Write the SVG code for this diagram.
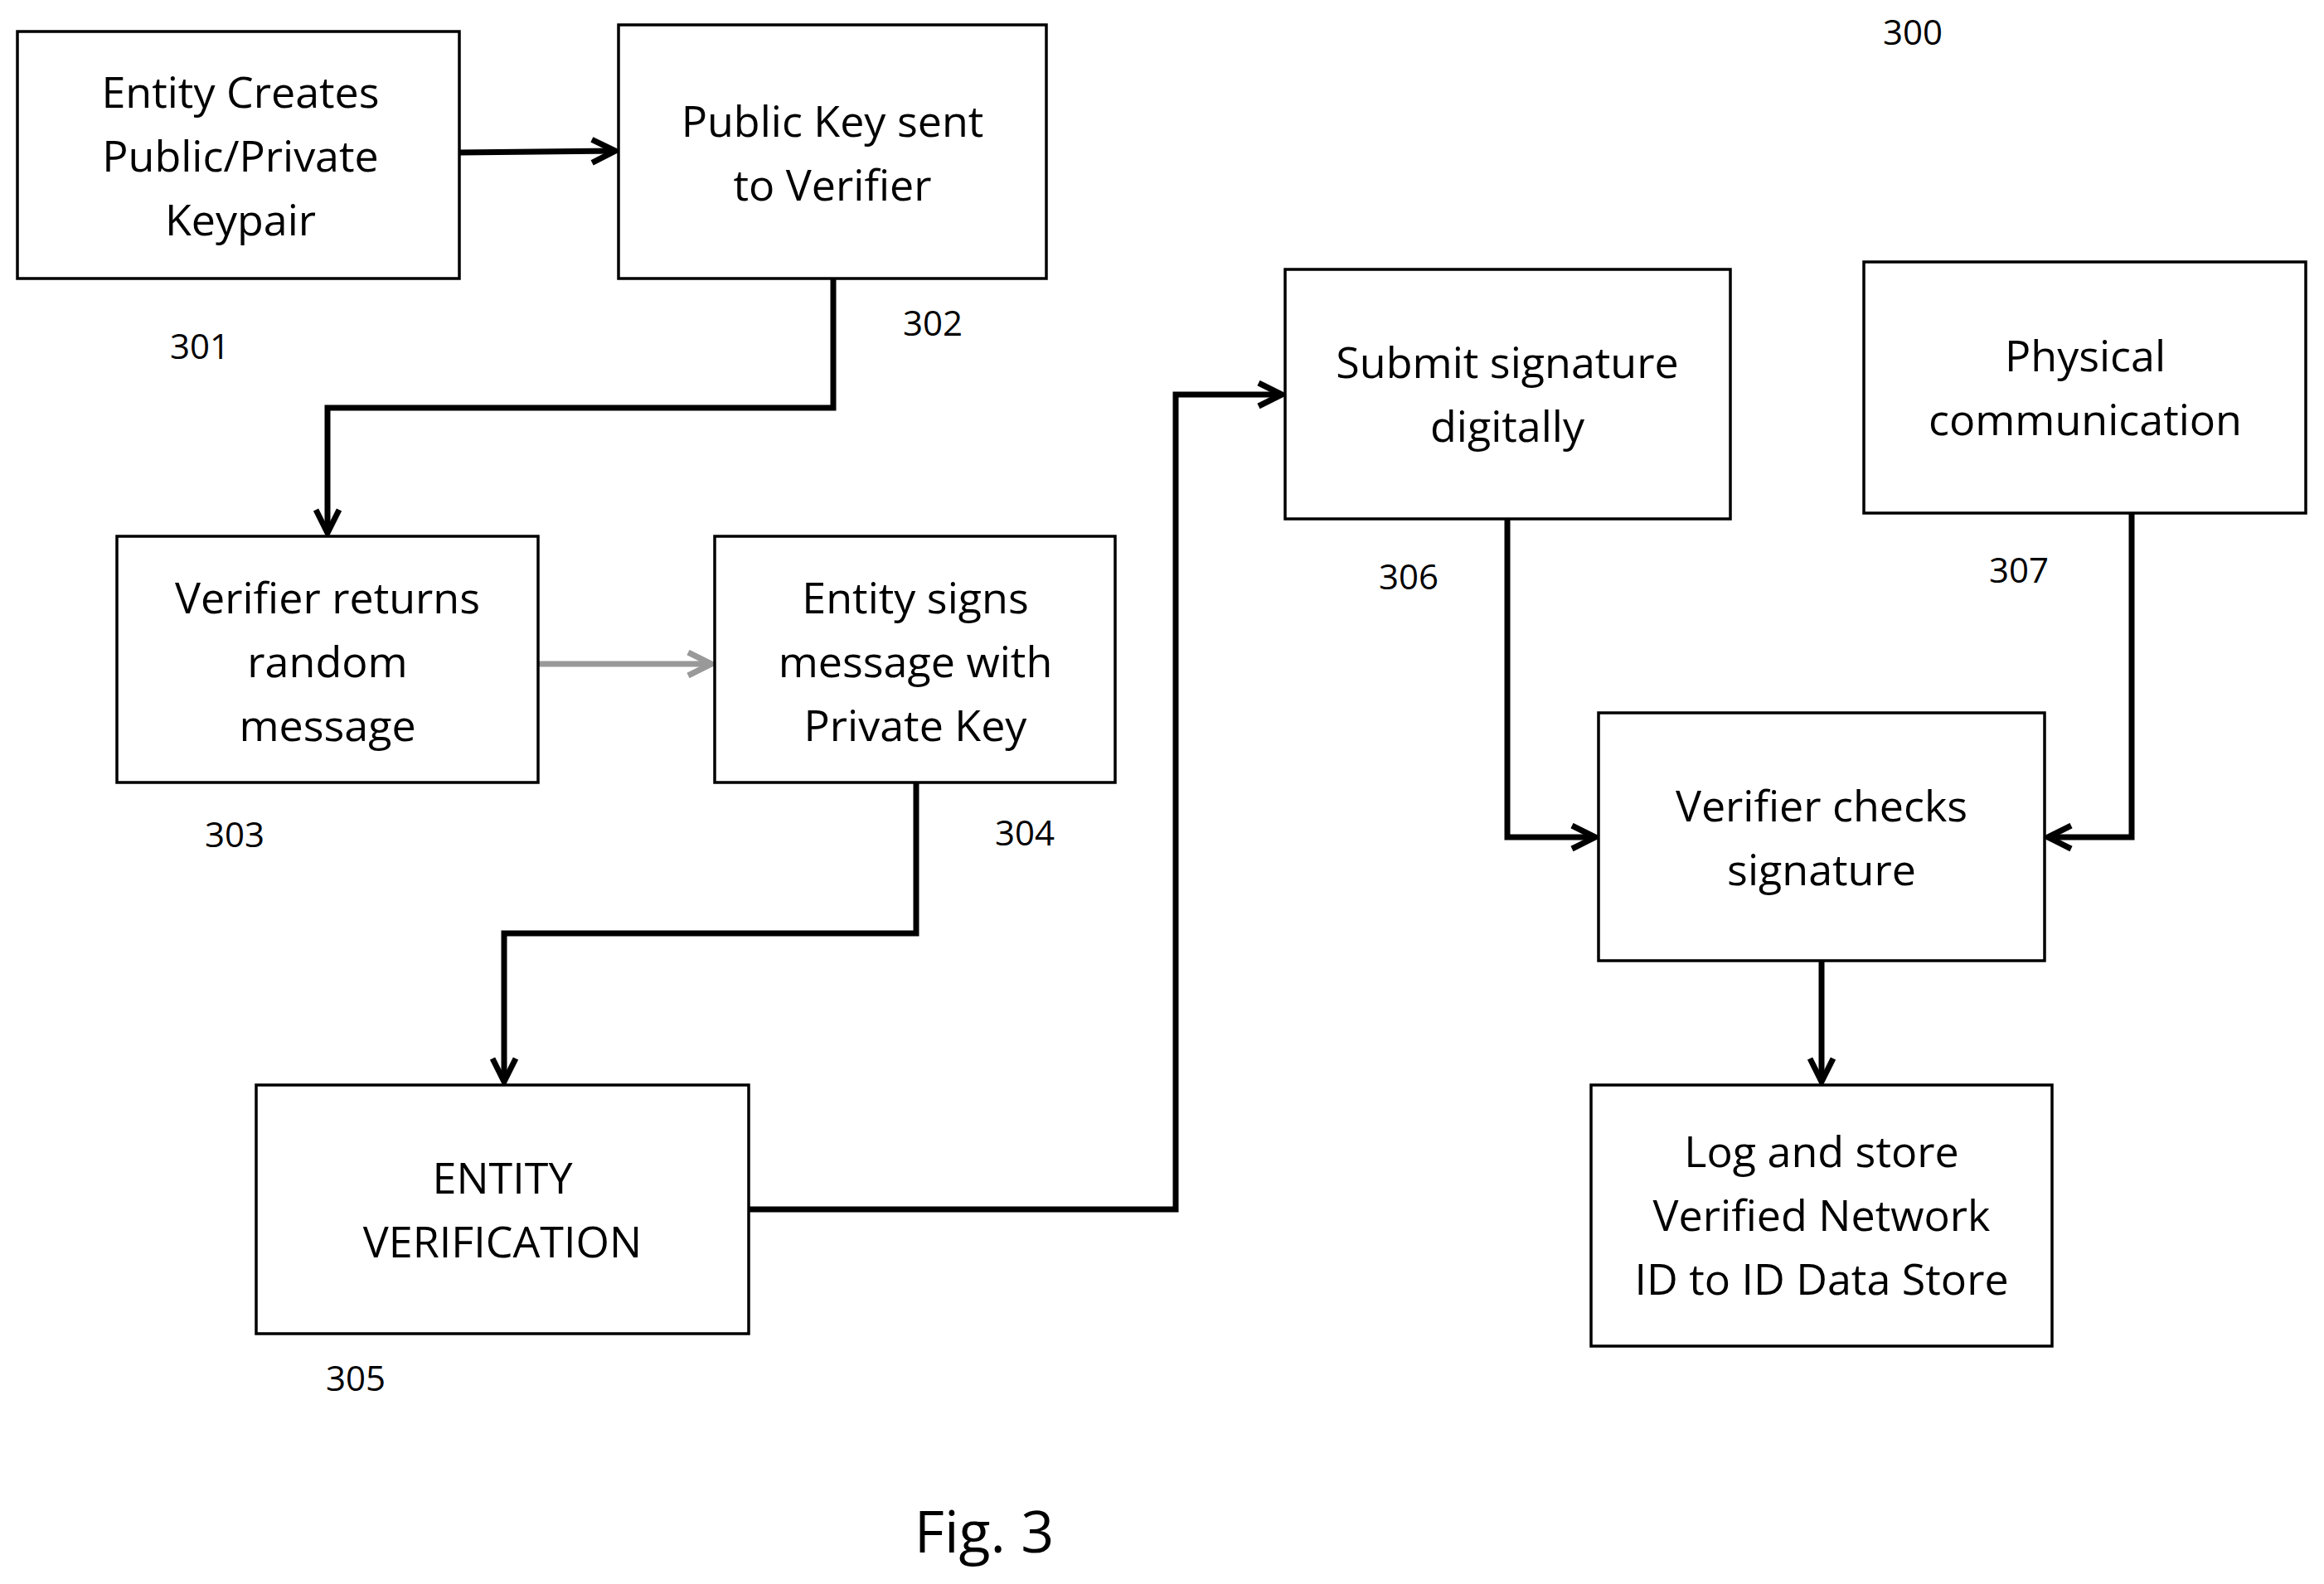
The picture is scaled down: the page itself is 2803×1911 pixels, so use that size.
<svg xmlns="http://www.w3.org/2000/svg" width="2803" height="1911" viewBox="0 0 2803 1911">
<style>
.b{fill:#fff;stroke:#000;stroke-width:3.5}
.t{font-family:"Open Sans","Liberation Sans",sans-serif;font-size:52px;fill:#000;text-anchor:middle}
.n{font-family:"Open Sans","Liberation Sans",sans-serif;font-size:42px;fill:#000;text-anchor:middle}
.c{fill:none;stroke:#000;stroke-width:7}
</style>
<defs>
<marker id="a" viewBox="0 0 10 10" refX="9" refY="5" markerWidth="5" markerHeight="5" orient="auto" markerUnits="strokeWidth">
<path d="M1,1 L9,5 L1,9" fill="none" stroke="context-stroke" stroke-width="2"/>
</marker>
</defs>
<rect width="2803" height="1911" fill="#fff"/>
<g id="connectors">
<path class="c" d="M554,184 L742,182" marker-end="url(#a)"/>
<path class="c" d="M1005,336 V492 H395 V643" marker-end="url(#a)"/>
<path class="c" d="M649,801 H858" stroke="#999" style="stroke:#999" marker-end="url(#a)"/>
<path class="c" d="M1105,944 V1126 H608 V1305" marker-end="url(#a)"/>
<path class="c" d="M903,1459 H1418 V476 H1546" marker-end="url(#a)"/>
<path class="c" d="M1818,626 V1010 H1924" marker-end="url(#a)"/>
<path class="c" d="M2571,608 V1010 H2470" marker-end="url(#a)"/>
<path class="c" d="M2197,1159 V1305" marker-end="url(#a)"/>
</g>
<g id="n301"><rect class="b" x="21" y="38" width="533" height="298"/>
<text class="t" x="290" y="130">Entity Creates</text><text class="t" x="290" y="207">Public/Private</text><text class="t" x="290" y="284">Keypair</text></g>
<g id="n302"><rect class="b" x="746" y="30" width="516" height="306"/>
<text class="t" x="1004" y="165">Public Key sent</text><text class="t" x="1004" y="242">to Verifier</text></g>
<g id="n303"><rect class="b" x="141" y="647" width="508" height="297"/>
<text class="t" x="395" y="740">Verifier returns</text><text class="t" x="395" y="817">random</text><text class="t" x="395" y="894">message</text></g>
<g id="n304"><rect class="b" x="862" y="647" width="483" height="297"/>
<text class="t" x="1104" y="740">Entity signs</text><text class="t" x="1104" y="817">message with</text><text class="t" x="1104" y="894">Private Key</text></g>
<g id="n305"><rect class="b" x="309" y="1309" width="594" height="300"/>
<text class="t" x="606" y="1440">ENTITY</text><text class="t" x="606" y="1517">VERIFICATION</text></g>
<g id="n306"><rect class="b" x="1550" y="325" width="537" height="301"/>
<text class="t" x="1818" y="456">Submit signature</text><text class="t" x="1818" y="533">digitally</text></g>
<g id="n307"><rect class="b" x="2248" y="316" width="533" height="303"/>
<text class="t" x="2515" y="448">Physical</text><text class="t" x="2515" y="525">communication</text></g>
<g id="ncheck"><rect class="b" x="1928" y="860" width="538" height="299"/>
<text class="t" x="2197" y="991">Verifier checks</text><text class="t" x="2197" y="1068">signature</text></g>
<g id="nlog"><rect class="b" x="1919" y="1309" width="556" height="315"/>
<text class="t" x="2197" y="1408">Log and store</text><text class="t" x="2197" y="1485">Verified Network</text><text class="t" x="2197" y="1562">ID to ID Data Store</text></g>
<g id="labels">
<text class="n" x="2307" y="54">300</text>
<text class="n" x="241" y="433">301</text>
<text class="n" x="1125" y="405">302</text>
<text class="n" x="283" y="1022">303</text>
<text class="n" x="1236" y="1020">304</text>
<text class="n" x="429" y="1678">305</text>
<text class="n" x="1699" y="711">306</text>
<text class="n" x="2435" y="703">307</text>
<text class="t" x="1187" y="1873" style="font-size:70px">Fig. 3</text>
</g>
</svg>
